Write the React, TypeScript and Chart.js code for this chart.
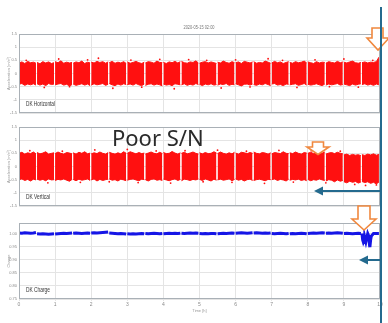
import React, { useEffect, useRef } from "react";
import { Chart, registerables } from "chart.js";

Chart.register(...registerables);

// ---------------- data ----------------
const chunkStarts = [0, 0.5, 1, 1.5, 2, 2.5, 3, 3.5, 4, 4.5, 5, 5.5, 6, 6.5, 7, 7.5, 8, 8.5, 9, 9.5];
const sampleOffsets = [0, 0.08, 0.16, 0.24, 0.32, 0.4, 0.47];
const xTickValues = [0, 1, 2, 3, 4, 5, 6, 7, 8, 9, 10];
const accelTickValues = [-1.5, -1, -0.5, 0, 0.5, 1, 1.5];
const chargeTickValues = [0.75, 0.8, 0.85, 0.9, 0.95, 1.0, 1.04];

const horizUpper = [
  0.40, 0.44, 0.38, 0.46, 0.41, 0.43, 0.39,
  0.42, 0.37, 0.45, 0.40, 0.44, 0.38, 0.41,
  0.45, 0.41, 0.48, 0.39, 0.43, 0.40, 0.42,
  0.39, 0.44, 0.41, 0.47, 0.38, 0.43, 0.40,
  0.43, 0.40, 0.46, 0.42, 0.45, 0.39, 0.44,
  0.41, 0.46, 0.39, 0.43, 0.40, 0.45, 0.38,
  0.44, 0.39, 0.42, 0.46, 0.41, 0.38, 0.43,
  0.40, 0.45, 0.43, 0.39, 0.47, 0.42, 0.41,
  0.42, 0.38, 0.44, 0.41, 0.46, 0.40, 0.45,
  0.46, 0.41, 0.39, 0.44, 0.42, 0.48, 0.40,
  0.39, 0.43, 0.45, 0.40, 0.44, 0.41, 0.38,
  0.43, 0.40, 0.47, 0.42, 0.39, 0.45, 0.41,
  0.41, 0.44, 0.38, 0.46, 0.43, 0.40, 0.44,
  0.45, 0.39, 0.42, 0.40, 0.47, 0.43, 0.39,
  0.40, 0.46, 0.41, 0.44, 0.38, 0.42, 0.45,
  0.42, 0.39, 0.45, 0.41, 0.43, 0.47, 0.40,
  0.44, 0.41, 0.38, 0.45, 0.40, 0.43, 0.42,
  0.39, 0.45, 0.42, 0.40, 0.46, 0.41, 0.44,
  0.43, 0.40, 0.44, 0.47, 0.41, 0.39, 0.42,
  0.41, 0.44, 0.40, 0.43, 0.42, 0.45, 0.62,
];
const horizLower = [
  -0.41, -0.38, -0.45, -0.40, -0.43, -0.39, -0.44,
  -0.39, -0.44, -0.40, -0.46, -0.38, -0.42, -0.40,
  -0.43, -0.40, -0.38, -0.44, -0.41, -0.47, -0.42,
  -0.40, -0.45, -0.42, -0.39, -0.44, -0.40, -0.46,
  -0.44, -0.39, -0.43, -0.41, -0.38, -0.45, -0.41,
  -0.38, -0.43, -0.46, -0.40, -0.44, -0.39, -0.42,
  -0.42, -0.40, -0.44, -0.38, -0.43, -0.46, -0.40,
  -0.45, -0.41, -0.39, -0.44, -0.40, -0.43, -0.47,
  -0.40, -0.44, -0.42, -0.46, -0.39, -0.41, -0.43,
  -0.43, -0.39, -0.45, -0.41, -0.44, -0.38, -0.42,
  -0.41, -0.46, -0.40, -0.43, -0.39, -0.44, -0.42,
  -0.44, -0.40, -0.42, -0.38, -0.45, -0.41, -0.43,
  -0.39, -0.43, -0.47, -0.41, -0.40, -0.44, -0.40,
  -0.42, -0.45, -0.40, -0.43, -0.38, -0.42, -0.46,
  -0.40, -0.38, -0.44, -0.42, -0.46, -0.40, -0.41,
  -0.43, -0.41, -0.39, -0.45, -0.42, -0.38, -0.44,
  -0.41, -0.44, -0.42, -0.39, -0.43, -0.46, -0.40,
  -0.44, -0.40, -0.43, -0.41, -0.38, -0.44, -0.42,
  -0.40, -0.43, -0.46, -0.40, -0.44, -0.41, -0.39,
  -0.42, -0.39, -0.44, -0.41, -0.45, -0.40, -0.43,
];
const horizOutX = [0.2, 0.7, 1.1, 1.4, 1.9, 2.2, 2.6, 3.1, 3.4, 3.9, 4.3, 4.7, 5.2, 5.6, 6.0, 6.4, 6.9, 7.3, 7.7, 8.2, 8.6, 9.0, 9.4, 9.8];
const horizOutY = [0.50, -0.53, 0.55, -0.50, 0.52, 0.58, -0.56, 0.51, -0.52, 0.54, -0.58, 0.53, 0.50, -0.55, 0.52, -0.51, 0.56, 0.50, -0.53, 0.52, -0.50, 0.55, -0.52, 0.50];

const vertUpper = [
  0.50, 0.54, 0.47, 0.52, 0.49, 0.55, 0.48,
  0.53, 0.48, 0.51, 0.56, 0.47, 0.50, 0.52,
  0.49, 0.55, 0.50, 0.47, 0.53, 0.51, 0.48,
  0.52, 0.47, 0.54, 0.50, 0.56, 0.48, 0.51,
  0.48, 0.52, 0.49, 0.55, 0.50, 0.47, 0.53,
  0.54, 0.50, 0.47, 0.52, 0.48, 0.56, 0.50,
  0.50, 0.56, 0.52, 0.48, 0.53, 0.49, 0.51,
  0.47, 0.51, 0.55, 0.50, 0.48, 0.54, 0.49,
  0.53, 0.49, 0.50, 0.57, 0.51, 0.47, 0.52,
  0.50, 0.54, 0.48, 0.51, 0.55, 0.50, 0.47,
  0.52, 0.48, 0.53, 0.49, 0.50, 0.56, 0.51,
  0.49, 0.55, 0.50, 0.47, 0.52, 0.48, 0.54,
  0.51, 0.47, 0.54, 0.52, 0.49, 0.53, 0.50,
  0.55, 0.50, 0.48, 0.53, 0.51, 0.47, 0.52,
  0.48, 0.53, 0.51, 0.49, 0.56, 0.50, 0.49,
  0.52, 0.49, 0.55, 0.50, 0.47, 0.53, 0.51,
  0.50, 0.54, 0.49, 0.52, 0.48, 0.51, 0.55,
  0.47, 0.51, 0.53, 0.49, 0.54, 0.50, 0.48,
  0.44, 0.47, 0.42, 0.46, 0.43, 0.45, 0.41,
  0.45, 0.42, 0.47, 0.44, 0.48, 0.43, 0.46,
];
const vertLower = [
  -0.50, -0.47, -0.53, -0.49, -0.55, -0.48, -0.51,
  -0.48, -0.52, -0.49, -0.54, -0.47, -0.51, -0.50,
  -0.53, -0.49, -0.51, -0.47, -0.52, -0.56, -0.49,
  -0.49, -0.54, -0.48, -0.52, -0.50, -0.47, -0.53,
  -0.51, -0.47, -0.55, -0.49, -0.53, -0.50, -0.48,
  -0.47, -0.52, -0.50, -0.55, -0.48, -0.51, -0.54,
  -0.52, -0.49, -0.47, -0.51, -0.54, -0.48, -0.50,
  -0.50, -0.55, -0.49, -0.47, -0.52, -0.50, -0.53,
  -0.48, -0.51, -0.54, -0.50, -0.47, -0.53, -0.49,
  -0.54, -0.48, -0.50, -0.53, -0.49, -0.51, -0.47,
  -0.49, -0.53, -0.47, -0.51, -0.55, -0.48, -0.52,
  -0.51, -0.48, -0.52, -0.50, -0.47, -0.54, -0.49,
  -0.47, -0.52, -0.49, -0.55, -0.50, -0.48, -0.53,
  -0.53, -0.50, -0.48, -0.51, -0.54, -0.49, -0.50,
  -0.50, -0.47, -0.53, -0.49, -0.51, -0.55, -0.48,
  -0.52, -0.49, -0.51, -0.48, -0.53, -0.50, -0.54,
  -0.49, -0.54, -0.50, -0.52, -0.47, -0.51, -0.53,
  -0.55, -0.50, -0.52, -0.58, -0.51, -0.56, -0.53,
  -0.58, -0.62, -0.56, -0.60, -0.57, -0.63, -0.59,
  -0.57, -0.61, -0.58, -0.64, -0.60, -0.66, -0.59,
];
const vertOutX = [0.3, 0.8, 1.2, 1.7, 2.1, 2.5, 3.0, 3.3, 3.8, 4.2, 4.6, 5.1, 5.5, 5.9, 6.3, 6.8, 7.2, 7.6, 8.1, 8.5, 8.9, 9.3, 9.6, 9.9];
const vertOutY = [0.60, -0.62, 0.58, -0.60, 0.63, -0.58, 0.65, -0.61, 0.59, -0.63, 0.60, -0.58, 0.62, -0.60, 0.58, -0.64, 0.61, -0.59, 0.60, -0.62, 0.58, -0.68, -0.72, -0.70];

const chargeLevels = [
  1.002, 1.001, 1.003, 1.002, 1.001, 1.002, 1.004,
  0.999, 0.998, 0.999, 0.998, 0.997, 0.998, 0.999,
  0.998, 0.999, 1.000, 1.001, 1.000, 1.001, 1.002,
  1.001, 1.002, 1.001, 1.000, 1.001, 1.002, 1.001,
  1.002, 1.003, 1.002, 1.003, 1.004, 1.005, 1.006,
  1.002, 1.001, 1.000, 0.999, 1.000, 0.999, 0.998,
  0.999, 0.998, 0.999, 0.998, 0.999, 1.000, 0.999,
  1.000, 0.999, 1.000, 1.001, 1.000, 0.999, 1.000,
  0.999, 1.000, 1.001, 1.000, 1.001, 1.000, 1.001,
  1.001, 1.000, 1.001, 1.002, 1.001, 1.002, 1.001,
  1.000, 0.999, 1.000, 0.999, 1.000, 1.000, 0.999,
  0.999, 1.000, 1.001, 1.000, 1.001, 1.002, 1.001,
  1.001, 1.002, 1.003, 1.002, 1.001, 1.002, 1.003,
  1.002, 1.003, 1.002, 1.001, 1.002, 1.001, 1.002,
  1.000, 0.999, 1.000, 1.001, 1.000, 0.999, 1.000,
  0.999, 1.000, 0.999, 1.000, 1.001, 1.000, 0.999,
  1.000, 1.001, 1.002, 1.001, 1.002, 1.003, 1.002,
  1.001, 1.002, 1.001, 1.002, 1.003, 1.002, 1.001,
  1.000, 1.001, 1.000, 0.999, 1.000, 1.001, 1.000,
  1.000, 0.985, 1.000, 0.975, 1.000, 1.000, 1.000,
];
const chargeDipX = [9.52, 9.54, 9.56, 9.61, 9.63, 9.69, 9.71, 9.72, 9.76];
const chargeDipY = [0.975, 0.966, 0.972, 0.968, 0.98, 0.99, 0.955, 0.948, 0.99];

const titleText = "2020-05-15 02:00";
const panelLabels = ["DK Horizontal", "DK Vertical", "DK Charge"];
const accelTitle = "Acceleration [m/s²]";
const chargeTitle = "Charge";
const timeTitle = "Time [h]";

// ---------------- helpers ----------------
type Pt = { x: number; y: number | null };

function bandSeries(vals: number[]): Pt[] {
  const pts: Pt[] = [];
  const n = sampleOffsets.length;
  chunkStarts.forEach((s, i) => {
    sampleOffsets.forEach((o, j) => pts.push({ x: s + o, y: vals[i * n + j] }));
    pts.push({ x: s + 0.485, y: null });
  });
  return pts;
}

function chargeSeries(): Pt[] {
  const pts: Pt[] = [];
  const n = sampleOffsets.length;
  chunkStarts.forEach((s, i) => {
    const chunk: Pt[] = sampleOffsets.map((o, j) => ({ x: s + o, y: chargeLevels[i * n + j] }));
    chargeDipX.forEach((x, k) => {
      if (x >= s && x < s + 0.5) chunk.push({ x, y: chargeDipY[k] });
    });
    chunk.sort((a, b) => a.x - b.x);
    pts.push(...chunk, { x: s + 0.485, y: null });
  });
  return pts;
}

function pairs(xs: number[], ys: number[]): Pt[] {
  return xs.map((x, i) => ({ x, y: ys[i] }));
}

const GRID = "#e4e4e4";
const TICK = "#8a8a8a";
const RED = "#ff1010";
const BLUE = "#1515e6";

function panelPlugin(label: string, labelWidth: number, showTitle: boolean) {
  return {
    id: "panelDeco",
    afterDraw(chart: any) {
      const { ctx, chartArea: a } = chart;
      ctx.save();
      ctx.strokeStyle = "#a9b0b6";
      ctx.lineWidth = 1;
      ctx.strokeRect(a.left + 0.5, a.top + 0.5, a.right - a.left - 1, a.bottom - a.top - 1);
      ctx.fillStyle = "#333";
      ctx.font = "7px 'Liberation Sans', Arial, sans-serif";
      ctx.textBaseline = "middle";
      ctx.textAlign = "left";
      ctx.fillText(label, a.left + 7, a.bottom - 8.5, labelWidth);
      if (showTitle) {
        ctx.fillStyle = "#777";
        ctx.font = "5px 'Liberation Sans', Arial, sans-serif";
        ctx.textAlign = "center";
        ctx.fillText(titleText, 199, a.top - 6, 31);
      }
      ctx.restore();
    },
  };
}

function yAxis(ticks: number[], min: number, max: number, title: string, fmt: (v: number) => string) {
  return {
    type: "linear",
    min,
    max,
    afterBuildTicks: (s: any) => {
      s.ticks = ticks.map((v) => ({ value: v }));
    },
    afterFit: (s: any) => {
      s.width = 19;
    },
    grid: { color: GRID, drawTicks: false },
    border: { display: false },
    ticks: { color: TICK, font: { size: 4 }, padding: 2, callback: (v: any) => fmt(Number(v)) },
    title: { display: true, text: title, color: "#999", font: { size: 4 }, padding: { top: 6, bottom: 0 } },
  };
}

function xAxis(showLabels: boolean) {
  return {
    type: "linear",
    min: 0,
    max: 10,
    afterBuildTicks: (s: any) => {
      s.ticks = xTickValues.map((v) => ({ value: v }));
    },
    afterFit: (s: any) => {
      s.height = showLabels ? 14 : 0;
    },
    grid: { color: GRID, drawTicks: showLabels, tickLength: 2 },
    border: { display: false },
    ticks: { display: showLabels, color: TICK, font: { size: 5 }, padding: 1, maxRotation: 0 },
    title: { display: showLabels, text: timeTitle, color: "#999", font: { size: 4 }, padding: 0 },
  };
}

function accelFmt(v: number) {
  return String(v);
}
function chargeFmt(v: number) {
  return Math.abs(v - 1.04) < 1e-6 ? "" : v.toFixed(2);
}

function bandDatasets(upper: number[], lower: number[], ox: number[], oy: number[]) {
  return [
    {
      data: bandSeries(upper),
      borderColor: RED,
      backgroundColor: RED,
      borderWidth: 1,
      pointRadius: 0,
      fill: "+1",
      spanGaps: false,
      tension: 0,
    },
    {
      data: bandSeries(lower),
      borderColor: RED,
      backgroundColor: RED,
      borderWidth: 1,
      pointRadius: 0,
      fill: false,
      spanGaps: false,
      tension: 0,
    },
    {
      data: pairs(ox, oy),
      showLine: false,
      pointRadius: 0.9,
      pointBorderWidth: 0,
      backgroundColor: RED,
      borderColor: RED,
    },
  ];
}

function baseOptions(padding: any, x: any, y: any) {
  return {
    responsive: false,
    animation: false,
    devicePixelRatio: 1,
    layout: { padding },
    plugins: { legend: { display: false }, tooltip: { enabled: false }, title: { display: false } },
    scales: { x, y },
  };
}

export default function App() {
  const c1 = useRef<HTMLCanvasElement>(null);
  const c2 = useRef<HTMLCanvasElement>(null);
  const c3 = useRef<HTMLCanvasElement>(null);

  useEffect(() => {
    document.body.style.margin = "0";
    const charts: Chart[] = [];
    charts.push(
      new Chart(c1.current as HTMLCanvasElement, {
        type: "line",
        data: { datasets: bandDatasets(horizUpper, horizLower, horizOutX, horizOutY) as any },
        options: baseOptions(
          { left: 0, right: 8, top: 34, bottom: 5 },
          xAxis(false),
          yAxis(accelTickValues, -1.5, 1.5, accelTitle, accelFmt)
        ) as any,
        plugins: [panelPlugin(panelLabels[0], 29, true)],
      })
    );
    charts.push(
      new Chart(c2.current as HTMLCanvasElement, {
        type: "line",
        data: { datasets: bandDatasets(vertUpper, vertLower, vertOutX, vertOutY) as any },
        options: baseOptions(
          { left: 0, right: 8, top: 9, bottom: 6 },
          xAxis(false),
          yAxis(accelTickValues, -1.5, 1.5, accelTitle, accelFmt)
        ) as any,
        plugins: [panelPlugin(panelLabels[1], 24, false)],
      })
    );
    charts.push(
      new Chart(c3.current as HTMLCanvasElement, {
        type: "line",
        data: {
          datasets: [
            {
              data: chargeSeries(),
              borderColor: BLUE,
              backgroundColor: BLUE,
              borderWidth: 3,
              pointRadius: 0,
              fill: false,
              spanGaps: false,
              tension: 0,
            },
          ] as any,
        },
        options: baseOptions(
          { left: 0, right: 8, top: 11, bottom: 10 },
          xAxis(true),
          yAxis(chargeTickValues, 0.75, 1.04, chargeTitle, chargeFmt)
        ) as any,
        plugins: [panelPlugin(panelLabels[2], 24, false)],
      })
    );
    return () => charts.forEach((c) => c.destroy());
  }, []);

  const arrowStroke = "#f0883e";
  const navy = "#246a8e";

  return (
    <div style={{ position: "fixed", left: 0, top: 0, width: 388, height: 323, background: "#fff", overflow: "hidden" }}>
      <canvas ref={c1} width={388} height={118} style={{ position: "absolute", left: 0, top: 0 }} />
      <canvas ref={c2} width={388} height={94} style={{ position: "absolute", left: 0, top: 118 }} />
      <canvas ref={c3} width={388} height={111} style={{ position: "absolute", left: 0, top: 212 }} />
      <div
        style={{
          position: "absolute",
          left: 112,
          top: 126,
          fontFamily: "'Noto Sans', 'Liberation Sans', sans-serif",
          fontSize: 22,
          lineHeight: "22px",
          color: "#2a2a2a",
          whiteSpace: "nowrap",
        }}
      >
        Poor S/N
      </div>
      <svg width={388} height={323} style={{ position: "absolute", left: 0, top: 0, pointerEvents: "none" }}>
        <polygon
          points="372,28 383,28 383,38 389,38 378,50 367,38 372,38"
          fill="#fff"
          stroke={arrowStroke}
          strokeWidth={1.6}
        />
        <polygon
          points="312.5,142 323.5,142 323.5,147 329,147 318,154.5 307,147 312.5,147"
          fill="#fff"
          stroke={arrowStroke}
          strokeWidth={1.6}
        />
        <polygon
          points="358,206 370,206 370,219 376,219 364,230 352,219 358,219"
          fill="#fff"
          stroke={arrowStroke}
          strokeWidth={1.6}
        />
        <line x1={381} y1={7} x2={381} y2={323} stroke={navy} strokeWidth={2} />
        <line x1={322} y1={191} x2={381} y2={191} stroke={navy} strokeWidth={2} />
        <polygon points="314,191 323,186.5 323,195.5" fill={navy} />
        <line x1={367} y1={260} x2={381} y2={260} stroke={navy} strokeWidth={2} />
        <polygon points="359,260 368,255.5 368,264.5" fill={navy} />
      </svg>
    </div>
  );
}
